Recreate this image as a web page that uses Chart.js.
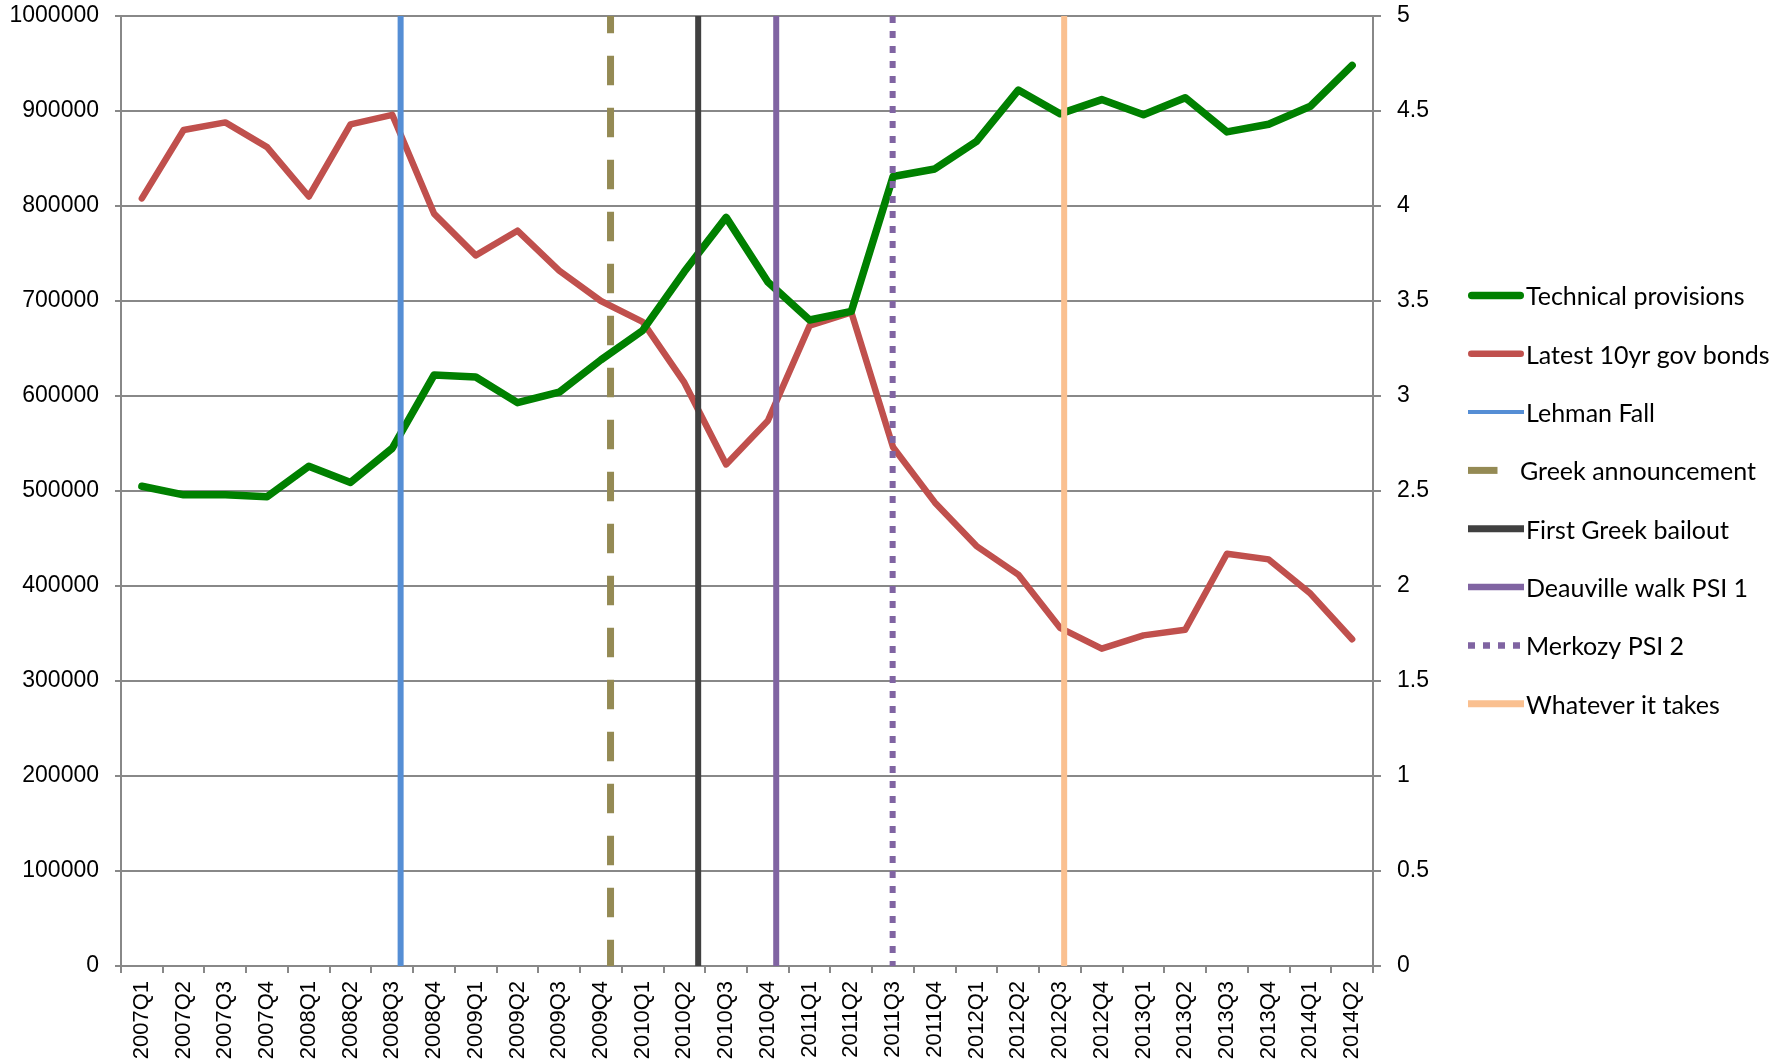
<!DOCTYPE html>
<html>
<head>
<meta charset="utf-8">
<script src="https://cdn.jsdelivr.net/npm/chart.js@4/dist/chart.umd.min.js"></script>
<style>
  html, body { margin: 0; padding: 0; background: #ffffff; }
  #wrap { width: 1781px; height: 1063px; position: relative; }
  canvas { display: block; }
</style>
</head>
<body>
<div id="wrap"><canvas id="chart" width="1781" height="1063"></canvas></div>
<script>
// Quarterly categories
const quarters = [
  '2007Q1','2007Q2','2007Q3','2007Q4',
  '2008Q1','2008Q2','2008Q3','2008Q4',
  '2009Q1','2009Q2','2009Q3','2009Q4',
  '2010Q1','2010Q2','2010Q3','2010Q4',
  '2011Q1','2011Q2','2011Q3','2011Q4',
  '2012Q1','2012Q2','2012Q3','2012Q4',
  '2013Q1','2013Q2','2013Q3','2013Q4',
  '2014Q1','2014Q2'
];

// Technical provisions (left axis)
const technicalProvisions = [
  505000, 496000, 496000, 494000,
  526000, 509000, 545000, 622000,
  620000, 593000, 604000, 638000,
  669000, 731000, 788000, 720000,
  680000, 689000, 831000, 839000,
  868000, 922000, 897000, 912000,
  896000, 914000, 878000, 886000,
  905000, 948000
];

// Latest 10yr government bond yield, % (right axis)
const govBonds10yr = [
  4.04, 4.40, 4.44, 4.31,
  4.05, 4.43, 4.48, 3.96,
  3.74, 3.87, 3.66, 3.50,
  3.39, 3.07, 2.64, 2.87,
  3.37, 3.44, 2.73, 2.44,
  2.21, 2.06, 1.78, 1.67,
  1.74, 1.77, 2.17, 2.14,
  1.96, 1.72
];

// Events, placed in quarter units (0 = 2007Q1)
const eventNames = [
  'Lehman Fall',
  'Greek announcement',
  'First Greek bailout',
  'Deauville walk PSI 1',
  'Merkozy PSI 2',
  'Whatever it takes'
];
const eventAt = [6.20, 11.23, 13.33, 15.20, 17.99, 22.10];

// Axis tick labels
const leftTicks = ['0','100000','200000','300000','400000','500000','600000','700000','800000','900000','1000000'];
const rightTicks = ['0','0.5','1','1.5','2','2.5','3','3.5','4','4.5','5'];

// Styling for the event markers
const eventStyles = [
  { color: '#558ED5', width: 6, keyWidth: 4, dash: [], dashOffset: 0 },
  { color: '#948A54', width: 7, keyWidth: 7, dash: [29.5, 22.5], dashOffset: 12.3 },
  { color: '#404040', width: 6, keyWidth: 7, dash: [], dashOffset: 0 },
  { color: '#8064A2', width: 6, keyWidth: 6.5, dash: [], dashOffset: 0 },
  { color: '#8064A2', width: 6, keyWidth: 6.5, dash: [7, 8], dashOffset: 0 },
  { color: '#FAC090', width: 6, keyWidth: 7, dash: [], dashOffset: 0 }
];

const GRID = '#888888';
const X_FONT = { family: '"Liberation Sans", Arial, sans-serif', size: 22 };
const Y_FONT = { family: '"Liberation Sans", Arial, sans-serif', size: 23 };
const LEGEND_FONT = '25px Lato, "Open Sans", sans-serif';

const datasets = [
  {
    label: 'Technical provisions',
    data: technicalProvisions,
    yAxisID: 'y',
    borderColor: '#008000',
    borderWidth: 7.5,
    borderJoinStyle: 'round',
    borderCapStyle: 'round',
    pointRadius: 0,
    tension: 0,
    order: 2
  },
  {
    label: 'Latest 10yr gov bonds',
    data: govBonds10yr,
    yAxisID: 'y2',
    borderColor: '#C0504D',
    borderWidth: 6.5,
    borderJoinStyle: 'round',
    borderCapStyle: 'round',
    pointRadius: 0,
    tension: 0,
    order: 2
  }
];

// Each event is a vertical line from the top of the left axis down to zero
eventNames.forEach((name, i) => {
  const st = eventStyles[i];
  datasets.push({
    label: name,
    data: [{ x: eventAt[i], y: 1000000 }, { x: eventAt[i], y: 0 }],
    xAxisID: 'xe',
    yAxisID: 'y',
    borderColor: st.color,
    borderWidth: st.width,
    keyWidth: st.keyWidth,
    borderDash: st.dash,
    borderDashOffset: st.dashOffset,
    borderCapStyle: 'butt',
    pointRadius: 0,
    order: 1
  });
});

// Legend drawn down the right-hand side
const legendBox = { x0: 1468, x1: 1524, gap: 2, top: 295.4, step: 58.33 };
const sideLegend = {
  id: 'sideLegend',
  afterDraw(chart) {
    const ctx = chart.ctx;
    chart.data.datasets.forEach((ds, i) => {
      const y = legendBox.top + i * legendBox.step;
      const dash = ds.borderDash || [];
      const round = ds.borderCapStyle === 'round';
      const w = ds.keyWidth || ds.borderWidth;
      let x0 = legendBox.x0;
      let x1 = legendBox.x1;
      let tx = legendBox.x1 + legendBox.gap;
      if (dash.length && dash[0] + dash[1] > 40) {
        x1 = x0 + dash[0];
        tx = x0 + dash[0] + dash[1];
      }
      ctx.save();
      ctx.strokeStyle = ds.borderColor;
      ctx.lineWidth = w;
      ctx.lineCap = round ? 'round' : 'butt';
      ctx.setLineDash(dash);
      ctx.beginPath();
      const inset = round ? w / 2 : 0;
      ctx.moveTo(x0 + inset, y);
      ctx.lineTo(x1 - inset, y);
      ctx.stroke();
      ctx.setLineDash([]);
      ctx.fillStyle = '#000000';
      ctx.font = LEGEND_FONT;
      ctx.textBaseline = 'alphabetic';
      ctx.textAlign = 'left';
      ctx.fillText(ds.label, tx, y + 10);
      ctx.restore();
    });
  }
};

// Keep the plot area fixed: no extra room reserved for overhanging tick labels
function noOverhang(scale) {
  scale.paddingTop = 0;
  scale.paddingBottom = 0;
  scale.paddingLeft = 0;
  scale.paddingRight = 0;
}

new Chart(document.getElementById('chart').getContext('2d'), {
  type: 'line',
  data: { labels: quarters, datasets },
  plugins: [sideLegend],
  options: {
    responsive: false,
    animation: false,
    devicePixelRatio: 1,
    layout: { padding: { left: 0, top: 16, right: 348, bottom: 0 } },
    plugins: {
      legend: { display: false },
      tooltip: { enabled: false }
    },
    scales: {
      x: {
        type: 'category',
        offset: true,
        grid: {
          offset: true,
          drawOnChartArea: false,
          drawTicks: true,
          tickLength: 7,
          color: GRID,
          lineWidth: 2
        },
        border: { display: true, color: GRID, width: 2 },
        ticks: {
          autoSkip: false,
          maxRotation: 90,
          minRotation: 90,
          padding: 8,
          color: '#000000',
          font: X_FONT
        },
        afterFit(scale) { scale.height = 97; noOverhang(scale); }
      },
      xe: {
        type: 'linear',
        display: false,
        min: -0.5,
        max: quarters.length - 0.5
      },
      y: {
        position: 'left',
        min: 0,
        max: 1000000,
        ticks: {
          stepSize: 100000,
          padding: 16,
          color: '#000000',
          font: Y_FONT,
          callback: (v, i) => leftTicks[i]
        },
        grid: { color: GRID, lineWidth: 2, tickLength: 6 },
        border: { display: true, color: GRID, width: 2 },
        afterFit(scale) { scale.width = 121; noOverhang(scale); }
      },
      y2: {
        position: 'right',
        min: 0,
        max: 5,
        ticks: {
          stepSize: 0.5,
          padding: 16,
          color: '#000000',
          font: Y_FONT,
          callback: (v, i) => rightTicks[i]
        },
        grid: { drawOnChartArea: false, color: GRID, lineWidth: 2, tickLength: 8 },
        border: { display: true, color: GRID, width: 2 },
        afterFit(scale) { scale.width = 60; noOverhang(scale); }
      }
    }
  }
});
</script>
</body>
</html>
